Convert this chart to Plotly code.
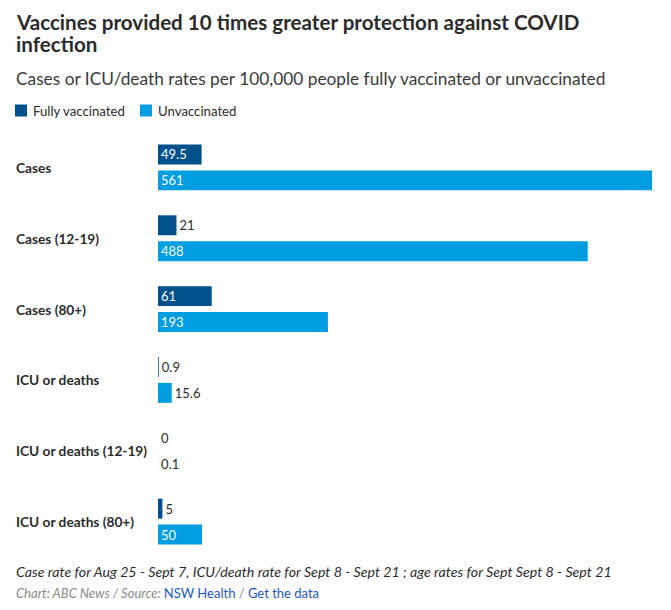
import plotly.graph_objects as go

categories = ["Cases", "Cases (12-19)", "Cases (80+)", "ICU or deaths",
              "ICU or deaths (12-19)", "ICU or deaths (80+)"]
fully_vaccinated = [49.5, 21, 61, 0.9, 0, 5]
unvaccinated = [561, 488, 193, 15.6, 0.1, 50]
series_names = ["Fully vaccinated", "Unvaccinated"]

title_lines = ["Vaccines provided 10 times greater protection against COVID", "infection"]
subtitle = "Cases or ICU/death rates per 100,000 people fully vaccinated or unvaccinated"
footnote = "Case rate for Aug 25 - Sept 7, ICU/death rate for Sept 8 - Sept 21 ; age rates for Sept Sept 8 - Sept 21"

DARK = "rgba(0,80,140,0.999)"
LIGHT = "rgba(0,157,225,0.999)"
DARK_SOLID = "#00508c"
LIGHT_SOLID = "#009de1"
TEXT = "#2b2b2b"
FONT = "Lato"

# the page body adds an 8px offset; work in window coordinates and subtract it
OFF = 8
W, H = 671 - 2 * OFF, 610 - 2 * OFF
PLOT_LEFT, PLOT_RIGHT, PLOT_TOP, PLOT_BOTTOM = 158, 652, 131.5, 557.5
L = PLOT_LEFT - OFF
R = W - (PLOT_RIGHT - OFF)
T = PLOT_TOP - OFF
B = H - (PLOT_BOTTOM - OFF)
TXT_PAD = 2  # annotation inner padding


def xs(px):
    """window x pixel -> shift relative to plot left"""
    return px - PLOT_LEFT


def ys_top(py):
    """window y pixel -> shift relative to plot top (positive up)"""
    return PLOT_TOP - py


def ys_bottom(py):
    return PLOT_BOTTOM - py


def text_positions(vals, threshold=40):
    return ["inside" if v >= threshold else "outside" for v in vals]


def fmt(vals):
    return [("%g" % v) for v in vals]


fig = go.Figure()
for name, vals, col in [(series_names[0], fully_vaccinated, DARK),
                        (series_names[1], unvaccinated, LIGHT)]:
    fig.add_trace(go.Bar(
        y=categories, x=vals, name=name, orientation="h",
        marker=dict(color=col, line=dict(width=0)),
        text=fmt(vals), textposition=text_positions(vals), insidetextanchor="start",
        textangle=0, constraintext="none", cliponaxis=False,
        insidetextfont=dict(color="white", size=13, family=FONT),
        outsidetextfont=dict(color=TEXT, size=13, family=FONT),
        showlegend=False,
    ))

annotations = []
for c in categories:
    annotations.append(dict(
        x=0, xref="paper", xanchor="left", xshift=xs(16 - TXT_PAD),
        y=c, yref="y", yanchor="middle", text="<b>%s</b>" % c, showarrow=False,
        font=dict(family=FONT, size=13.7, color=TEXT)))

for line, cy in zip(title_lines, [21, 43]):
    annotations.append(dict(x=0, xref="paper", xanchor="left", xshift=xs(16 - TXT_PAD),
                            y=1, yref="paper", yanchor="middle", yshift=ys_top(cy),
                            text="<b>%s</b>" % line, showarrow=False,
                            font=dict(family=FONT, size=20.6, color=TEXT)))
annotations.append(dict(x=0, xref="paper", xanchor="left", xshift=xs(16 - TXT_PAD),
                        y=1, yref="paper", yanchor="middle", yshift=ys_top(78),
                        text=subtitle, showarrow=False,
                        font=dict(family=FONT, size=17.3, color="#3a3a3a")))

shapes = []
for x0, name, col in [(15, series_names[0], DARK_SOLID), (140, series_names[1], LIGHT_SOLID)]:
    shapes.append(dict(type="rect", xref="paper", yref="paper",
                       xsizemode="pixel", ysizemode="pixel", xanchor=0, yanchor=1,
                       x0=xs(x0), x1=xs(x0 + 12), y0=ys_top(116), y1=ys_top(104),
                       fillcolor=col, line=dict(width=0)))
    annotations.append(dict(x=0, xref="paper", xanchor="left", xshift=xs(x0 + 18 - TXT_PAD),
                            y=1, yref="paper", yanchor="middle", yshift=ys_top(110),
                            text=name, showarrow=False,
                            font=dict(family=FONT, size=13.2, color=TEXT)))

annotations.append(dict(x=0, xref="paper", xanchor="left", xshift=xs(16 - TXT_PAD),
                        y=0, yref="paper", yanchor="middle", yshift=ys_bottom(572),
                        text="<i>%s</i>" % footnote, showarrow=False,
                        font=dict(family=FONT, size=14.2, color=TEXT)))
annotations.append(dict(x=0, xref="paper", xanchor="left", xshift=xs(16 - TXT_PAD),
                        y=0, yref="paper", yanchor="middle", yshift=ys_bottom(593),
                        text=("<i>Chart: ABC News / Source: </i>"
                              "<span style='color:#1a56c7'>NSW Health</span>"
                              " / <span style='color:#1a56c7'>Get the data</span>"),
                        showarrow=False,
                        font=dict(family=FONT, size=13, color="#8a8a8a")))

fig.update_layout(
    width=W, height=H,
    margin=dict(l=L, r=R, t=T, b=B, pad=0),
    paper_bgcolor="white", plot_bgcolor="white",
    barmode="group", bargap=0.268, bargroupgap=0.23,
    font=dict(family=FONT, color=TEXT),
    xaxis=dict(range=[0, max(unvaccinated)], visible=False, fixedrange=True),
    yaxis=dict(type="category", autorange="reversed", showticklabels=False,
               showgrid=False, zeroline=False, showline=False, ticks="",
               fixedrange=True),
    annotations=annotations, shapes=shapes,
    showlegend=False,
)

fig.write_html("out.html")
